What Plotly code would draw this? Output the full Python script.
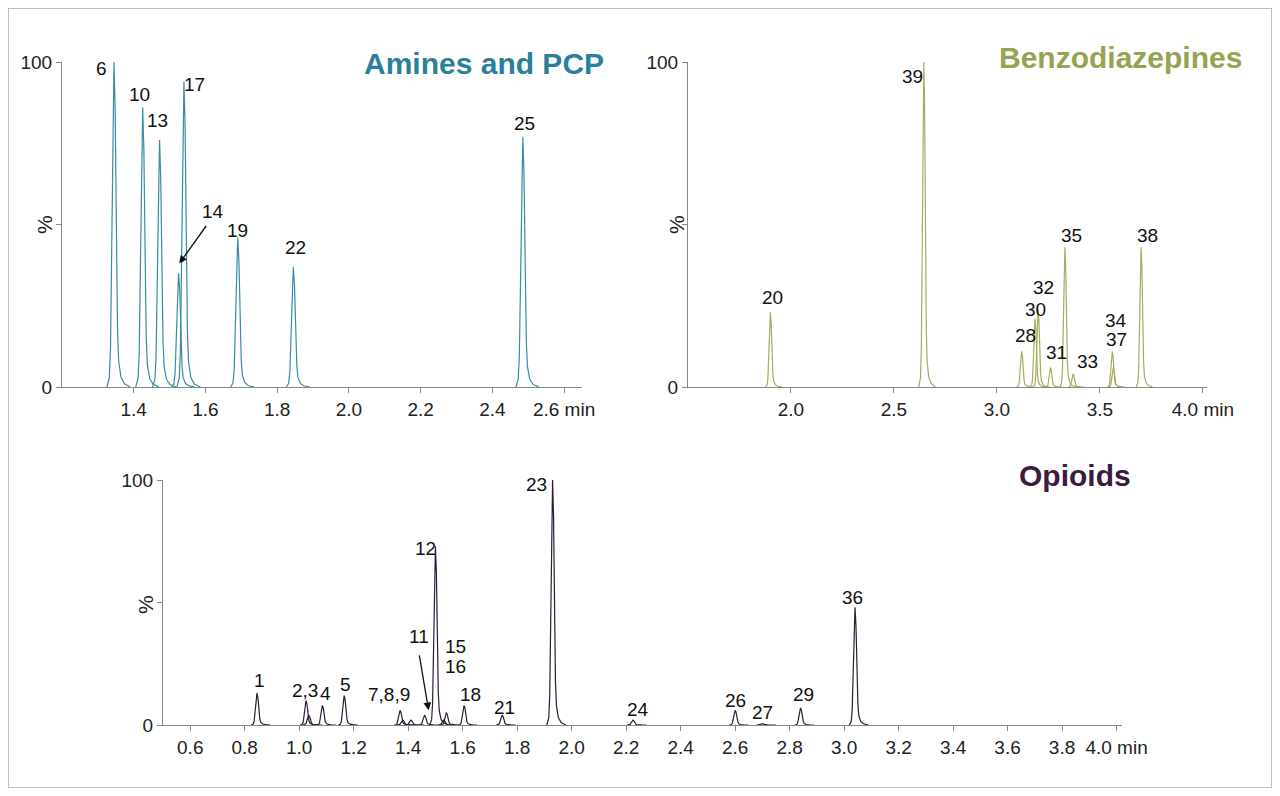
import plotly.graph_objects as go

# ---- data ----
am_rt = [1.345, 1.425, 1.472, 1.525, 1.540, 1.690, 1.845, 2.485]
am_h = [100, 86, 76, 35, 94, 46, 37, 77]
am_lab = ["6", "10", "13", "17", "19", "22", "25"]
am_lx = [1.31, 1.415, 1.465, 1.57, 1.69, 1.85, 2.49]
am_ly = [98, 90, 82, 93, 48, 43, 81]

bz_rt = [1.90, 2.645, 3.12, 3.185, 3.20, 3.26, 3.33, 3.37, 3.56, 3.565, 3.70]
bz_h = [23, 100, 11, 21, 24, 6, 43, 4, 11, 6, 43]
bz_lab = ["20", "39", "28", "30", "32", "31", "35", "33", "34", "37", "38"]
bz_lx = [1.91, 2.59, 3.14, 3.185, 3.225, 3.29, 3.36, 3.44, 3.58, 3.58, 3.73]
bz_ly = [27.5, 95.5, 16, 24, 30.5, 10.5, 46.5, 8, 20.5, 14.5, 46.5]

op_rt = [0.845, 1.025, 1.035, 1.085, 1.165, 1.37, 1.38, 1.41, 1.46, 1.50, 1.53, 1.54, 1.605, 1.745, 1.93, 2.225, 2.60, 2.70, 2.84, 3.04]
op_h = [13, 10, 4, 8, 12, 6, 2, 2, 4, 73, 2, 5, 8, 4, 100, 2, 6, 0.5, 7, 48]
op_lab = ["1", "2,3", "4", "5", "7,8,9", "12", "15", "16", "18", "21", "23", "24", "26", "27", "29", "36"]
op_lx = [0.855, 1.02, 1.095, 1.17, 1.33, 1.465, 1.575, 1.575, 1.63, 1.755, 1.87, 2.245, 2.60, 2.70, 2.85, 3.03]
op_ly = [18, 14, 13, 16.5, 12.5, 72, 32, 24, 12.5, 7, 98, 6.5, 10, 5, 12.5, 52]

# relative peak profile (offsets in widths, relative heights)
prof_dx = [-3.0, -2.0, -1.5, -1.0, -0.5, 0.0, 0.5, 1.0, 1.5, 2.0, 3.0, 4.5, 7.0]
prof_y = [0.0, 0.03, 0.12, 0.45, 0.88, 1.0, 0.85, 0.45, 0.18, 0.08, 0.03, 0.01, 0.0]

C_AM, C_BZ, C_OP = "#3a8ca3", "#a9ab5d", "#2e1c35"
T_AM, T_BZ, T_OP = "#2b7f9b", "#98a352", "#3a1c40"


def peaks(rts, hs, w):
    xs, ys = [], []
    for t, h in zip(rts, hs):
        xs += [t + d * w for d in prof_dx] + [None]
        ys += [h * r for r in prof_y] + [None]
    return xs, ys


fig = go.Figure()
OFF = 8
W, H = 1280 - 2 * OFF, 796 - 2 * OFF


def px2x(a, b):
    return [(a - OFF) / W, (b - OFF) / W]


def px2y(top, bot):
    return [1 - (bot - OFF) / H, 1 - (top - OFF) / H]


panels = [
    ("x", "y", am_rt, am_h, 0.0065, C_AM, px2x(62, 582), px2y(62, 387), [1.2, 2.65],
     [1.4, 1.6, 1.8, 2.0, 2.2, 2.4, 2.6], ["1.4", "1.6", "1.8", "2.0", "2.2", "2.4", "2.6 min"]),
    ("x2", "y2", bz_rt, bz_h, 0.008, C_BZ, px2x(688, 1207), px2y(62, 387), [1.5, 4.02],
     [2.0, 2.5, 3.0, 3.5, 4.0], ["2.0", "2.5", "3.0", "3.5", "4.0 min"]),
    ("x3", "y3", op_rt, op_h, 0.007, C_OP, px2x(163, 1122), px2y(480, 725), [0.5, 4.02],
     [0.6 + 0.2 * i for i in range(18)], ["%.1f" % (0.6 + 0.2 * i) for i in range(17)] + ["4.0 min"]),
]

for i, (xa, ya, rt, h, w, col, xd, yd, xr, tv, tt) in enumerate(panels):
    xs, ys = peaks(rt, h, w)
    fig.add_trace(go.Scatter(x=xs, y=ys, xaxis=xa, yaxis=ya, mode="lines",
                             line=dict(color=col, width=1.2), showlegend=False, hoverinfo="skip"))
    n = "" if i == 0 else str(i + 1)
    fig.layout["xaxis" + n] = dict(domain=xd, range=xr, anchor=ya, showline=True, linecolor="#888",
                                   linewidth=1, ticks="outside", ticklen=5, tickcolor="#888",
                                   tickvals=tv, ticktext=tt, showgrid=False, zeroline=False,
                                   tickfont=dict(size=19, color="#222"))
    fig.layout["yaxis" + n] = dict(domain=yd, range=[0, 100], anchor=xa, showline=True, linecolor="#888",
                                   linewidth=1, ticks="outside", ticklen=5, tickcolor="#888",
                                   tickvals=[0, 50, 100], ticktext=["0", "", "100"], showgrid=False,
                                   zeroline=False, tickfont=dict(size=19, color="#222"))

anns = []
for (xa, ya, labs, lx, ly) in [("x", "y", am_lab, am_lx, am_ly), ("x2", "y2", bz_lab, bz_lx, bz_ly),
                               ("x3", "y3", op_lab, op_lx, op_ly)]:
    for l, x, y in zip(labs, lx, ly):
        anns.append(dict(x=x, y=y, xref=xa, yref=ya, text=l, showarrow=False,
                         font=dict(size=19, color="#111")))

# arrows
anns.append(dict(x=1.527, y=38, xref="x", yref="y", ax=1.605, ay=50, axref="x", ayref="y",
                 showarrow=True, arrowhead=2, arrowsize=1.2, arrowwidth=1.3, arrowcolor="#111", text=""))
anns.append(dict(x=1.62, y=54, xref="x", yref="y", text="14", showarrow=False,
                 font=dict(size=19, color="#111")))
anns.append(dict(x=1.475, y=6, xref="x3", yref="y3", ax=1.44, ay=29, axref="x3", ayref="y3",
                 showarrow=True, arrowhead=2, arrowsize=1.2, arrowwidth=1.3, arrowcolor="#111", text=""))
anns.append(dict(x=1.44, y=36, xref="x3", yref="y3", text="11", showarrow=False,
                 font=dict(size=19, color="#111")))

# titles
for txt, x, y, c in [("Amines and PCP", 484, 64, T_AM), ("Benzodiazepines", 1120, 57, T_BZ),
                     ("Opioids", 1075, 475, T_OP)]:
    anns.append(dict(x=(x - OFF) / W, y=1 - (y - OFF) / H, xref="paper", yref="paper",
                     xanchor="center", yanchor="middle",
                     text="<b>%s</b>" % txt, showarrow=False,
                     font=dict(size=30, color=c, family="Liberation Sans, Arial")))
# % labels
for x, y in [(44, 225), (676, 225), (145, 605)]:
    anns.append(dict(x=(x - OFF) / W, y=1 - (y - OFF) / H, xref="paper", yref="paper", text="%",
                     xanchor="center", yanchor="middle",
                     textangle=-90, showarrow=False, font=dict(size=21, color="#222")))

fig.update_layout(width=W, height=H, margin=dict(l=0, r=0, t=0, b=0, autoexpand=False),
                  paper_bgcolor="white",
                  plot_bgcolor="white", font=dict(family="Liberation Sans, Arial"), annotations=anns,
                  shapes=[dict(type="rect", xref="paper", yref="paper", x0=0.0, x1=1.0, y0=0.0,
                               y1=1.0, line=dict(color="#aaa", width=1.5))])
fig.write_html("out.html")
